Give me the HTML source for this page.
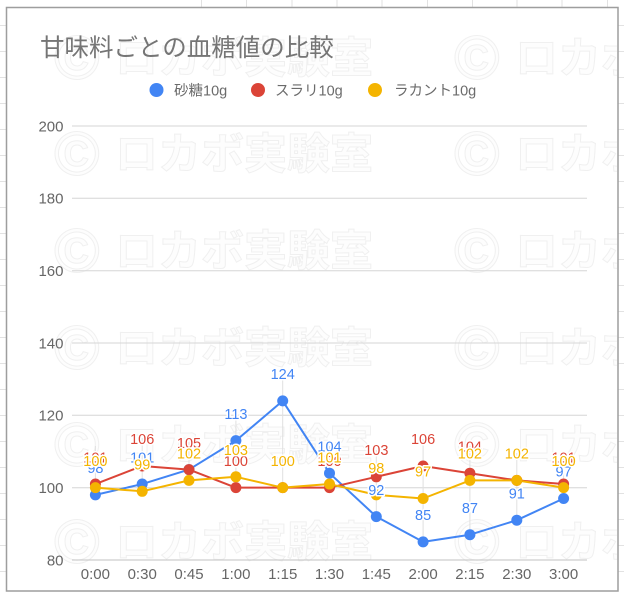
<!DOCTYPE html>
<html><head><meta charset="utf-8">
<style>
html,body{margin:0;padding:0;background:#fff;}
body{width:624px;height:595px;overflow:hidden;}
svg{display:block;}
.wm{font-family:"Liberation Sans","Noto Sans CJK JP",sans-serif;font-weight:bold;fill:#fdfdfd;stroke:#f0f0f0;stroke-width:1;}
.ax{font-family:"Liberation Sans",sans-serif;font-size:15px;fill:#666;}
.lb{font-family:"Liberation Sans",sans-serif;font-size:14.5px;text-anchor:middle;stroke:#fff;stroke-width:3;paint-order:stroke;stroke-linejoin:round;}
.b{fill:#4285f4}.r{fill:#db4437}.y{fill:#f4b400}
</style></head>
<body>
<svg width="624" height="595" viewBox="0 0 624 595" xmlns="http://www.w3.org/2000/svg">
<rect width="624" height="595" fill="#fff"/>
<g stroke="#e2e2e2" stroke-width="1">
<line x1="201.5" y1="0" x2="201.5" y2="7"/><line x1="246.5" y1="0" x2="246.5" y2="7"/><line x1="292" y1="0" x2="292" y2="7"/><line x1="337" y1="0" x2="337" y2="7"/><line x1="382" y1="0" x2="382" y2="7"/><line x1="427.5" y1="0" x2="427.5" y2="7"/><line x1="472.5" y1="0" x2="472.5" y2="7"/><line x1="517" y1="0" x2="517" y2="7"/><line x1="562" y1="0" x2="562" y2="7"/><line x1="607.5" y1="0" x2="607.5" y2="7"/>
</g>
<g stroke="#e2e2e2" stroke-width="1">
<path d="M0 25.5H6M0 51.5H6M0 77.5H6M0 103.5H6M0 129.5H6M0 155.5H6M0 181.5H6M0 207.5H6M0 233.5H6M0 259.5H6M0 285.5H6M0 311.5H6M0 337.5H6M0 363.5H6M0 389.5H6M0 415.5H6M0 441.5H6M0 467.5H6M0 493.5H6M0 519.5H6M0 545.5H6M0 571.5H6"/>
<path d="M618 25.5H624M618 51.5H624M618 77.5H624M618 103.5H624M618 129.5H624M618 155.5H624M618 181.5H624M618 207.5H624M618 233.5H624M618 259.5H624M618 285.5H624M618 311.5H624M618 337.5H624M618 363.5H624M618 389.5H624M618 415.5H624M618 441.5H624M618 467.5H624M618 493.5H624M618 519.5H624M618 545.5H624M618 571.5H624"/>
</g>
<rect x="6.5" y="7.5" width="611.5" height="583.5" fill="#fff" stroke="#9e9e9e" stroke-width="1.5"/>
<svg x="7" y="8" width="610" height="582" viewBox="7 8 610 582">
<g class="wm">
<text x="54" y="79" font-size="62">©</text><text x="115" y="73" font-size="43">ロカボ実験室</text>
<text x="454" y="79" font-size="62">©</text><text x="515" y="73" font-size="43">ロカボ実験室</text>
<text x="54" y="175" font-size="62">©</text><text x="115" y="169" font-size="43">ロカボ実験室</text>
<text x="454" y="175" font-size="62">©</text><text x="515" y="169" font-size="43">ロカボ実験室</text>
<text x="54" y="272" font-size="62">©</text><text x="115" y="266" font-size="43">ロカボ実験室</text>
<text x="454" y="272" font-size="62">©</text><text x="515" y="266" font-size="43">ロカボ実験室</text>
<text x="54" y="369" font-size="62">©</text><text x="115" y="363" font-size="43">ロカボ実験室</text>
<text x="454" y="369" font-size="62">©</text><text x="515" y="363" font-size="43">ロカボ実験室</text>
<text x="54" y="466" font-size="62">©</text><text x="115" y="460" font-size="43">ロカボ実験室</text>
<text x="454" y="466" font-size="62">©</text><text x="515" y="460" font-size="43">ロカボ実験室</text>
<text x="54" y="563" font-size="62">©</text><text x="115" y="557" font-size="43">ロカボ実験室</text>
<text x="454" y="563" font-size="62">©</text><text x="515" y="557" font-size="43">ロカボ実験室</text>
</g>
</svg>
<text x="40" y="56" font-family="'Liberation Sans','Noto Sans CJK JP',sans-serif" font-size="24.5" fill="#757575">甘味料ごとの血糖値の比較</text>
<g font-family="'Liberation Sans','Noto Sans CJK JP',sans-serif" font-size="14.5" fill="#6b6b6b">
<circle cx="156.5" cy="90" r="7" fill="#4285f4"/><text x="174" y="95.5">砂糖10g</text>
<circle cx="258" cy="90" r="7" fill="#db4437"/><text x="275" y="95.5">スラリ10g</text>
<circle cx="375" cy="90" r="7" fill="#f4b400"/><text x="394" y="95.5">ラカント10g</text>
</g>
<g stroke="#d6d6d6" stroke-width="1">
<line x1="72" y1="126" x2="587" y2="126"/>
<line x1="72" y1="198.3" x2="587" y2="198.3"/>
<line x1="72" y1="270.7" x2="587" y2="270.7"/>
<line x1="72" y1="343" x2="587" y2="343"/>
<line x1="72" y1="415.3" x2="587" y2="415.3"/>
<line x1="72" y1="487.7" x2="587" y2="487.7"/>
</g>
<line x1="72" y1="560" x2="587" y2="560" stroke="#c2c2c2" stroke-width="1"/>
<g class="ax" text-anchor="end">
<text x="63.5" y="131.3">200</text>
<text x="63.5" y="203.6">180</text>
<text x="63.5" y="276">160</text>
<text x="63.5" y="348.3">140</text>
<text x="63.5" y="420.6">120</text>
<text x="63.5" y="493">100</text>
<text x="63.5" y="565.3">80</text>
</g>
<g class="ax" text-anchor="middle">
<text x="95.4" y="579">0:00</text>
<text x="142.2" y="579">0:30</text>
<text x="189" y="579">0:45</text>
<text x="235.9" y="579">1:00</text>
<text x="282.7" y="579">1:15</text>
<text x="329.5" y="579">1:30</text>
<text x="376.3" y="579">1:45</text>
<text x="423.1" y="579">2:00</text>
<text x="469.9" y="579">2:15</text>
<text x="516.8" y="579">2:30</text>
<text x="563.6" y="579">3:00</text>
</g>
<g stroke="#e0e0e0" stroke-width="1">
<line x1="95.4" y1="446" x2="95.4" y2="495"/>
<line x1="142.2" y1="438" x2="142.2" y2="491"/>
<line x1="189" y1="442" x2="189" y2="481"/>
<line x1="235.9" y1="413" x2="235.9" y2="488"/>
<line x1="282.7" y1="374" x2="282.7" y2="488"/>
<line x1="329.5" y1="446" x2="329.5" y2="488"/>
<line x1="376.3" y1="450" x2="376.3" y2="517"/>
<line x1="423.1" y1="439" x2="423.1" y2="542"/>
<line x1="469.9" y1="446" x2="469.9" y2="535"/>
<line x1="516.8" y1="453" x2="516.8" y2="520"/>
<line x1="563.6" y1="457" x2="563.6" y2="498"/>
</g>
<polyline fill="none" stroke="#4285f4" stroke-width="2" stroke-linejoin="round" points="95.4,494.9 142.2,484.05 189,469.58 235.9,440.65 282.7,400.9 329.5,473.2 376.3,516.6 423.1,541.9 469.9,534.7 516.8,520.2 563.6,498.5"/>
<polyline fill="none" stroke="#db4437" stroke-width="2" stroke-linejoin="round" points="95.4,484.05 142.2,465.97 189,469.58 235.9,487.67 282.7,487.67 329.5,487.67 376.3,476.8 423.1,465.97 469.9,473.2 516.8,480.4 563.6,484.05"/>
<polyline fill="none" stroke="#f4b400" stroke-width="2" stroke-linejoin="round" points="95.4,487.67 142.2,491.3 189,480.4 235.9,476.8 282.7,487.67 329.5,484.05 376.3,494.9 423.1,498.5 469.9,480.4 516.8,480.4 563.6,487.67"/>
<g fill="#4285f4">
<circle cx="95.4" cy="494.9" r="5.5"/><circle cx="142.2" cy="484.05" r="5.5"/><circle cx="189" cy="469.58" r="5.5"/><circle cx="235.9" cy="440.65" r="5.5"/><circle cx="282.7" cy="400.9" r="5.5"/><circle cx="329.5" cy="473.2" r="5.5"/><circle cx="376.3" cy="516.6" r="5.5"/><circle cx="423.1" cy="541.9" r="5.5"/><circle cx="469.9" cy="534.7" r="5.5"/><circle cx="516.8" cy="520.2" r="5.5"/><circle cx="563.6" cy="498.5" r="5.5"/>
</g>
<g fill="#db4437">
<circle cx="95.4" cy="484.05" r="5.5"/><circle cx="142.2" cy="465.97" r="5.5"/><circle cx="189" cy="469.58" r="5.5"/><circle cx="235.9" cy="487.67" r="5.5"/><circle cx="282.7" cy="487.67" r="5.5"/><circle cx="329.5" cy="487.67" r="5.5"/><circle cx="376.3" cy="476.8" r="5.5"/><circle cx="423.1" cy="465.97" r="5.5"/><circle cx="469.9" cy="473.2" r="5.5"/><circle cx="516.8" cy="480.4" r="5.5"/><circle cx="563.6" cy="484.05" r="5.5"/>
</g>
<g fill="#f4b400">
<circle cx="95.4" cy="487.67" r="5.5"/><circle cx="142.2" cy="491.3" r="5.5"/><circle cx="189" cy="480.4" r="5.5"/><circle cx="235.9" cy="476.8" r="5.5"/><circle cx="282.7" cy="487.67" r="5.5"/><circle cx="329.5" cy="484.05" r="5.5"/><circle cx="376.3" cy="494.9" r="5.5"/><circle cx="423.1" cy="498.5" r="5.5"/><circle cx="469.9" cy="480.4" r="5.5"/><circle cx="516.8" cy="480.4" r="5.5"/><circle cx="563.6" cy="487.67" r="5.5"/>
</g>
<g class="lb b">
<text x="95.4" y="473.1">98</text><text x="142.2" y="462.25">101</text><text x="189" y="447.8">105</text><text x="235.9" y="418.85">113</text><text x="282.7" y="379.1">124</text><text x="329.5" y="451.4">104</text><text x="376.3" y="494.8">92</text><text x="423.1" y="520.1">85</text><text x="469.9" y="512.9">87</text><text x="516.8" y="498.4">91</text><text x="563.6" y="476.7">97</text>
</g>
<g class="lb r">
<text x="95.4" y="462.25">101</text><text x="142.2" y="444.17">106</text><text x="189" y="447.8">105</text><text x="235.9" y="465.87">100</text><text x="282.7" y="465.87">100</text><text x="329.5" y="465.87">100</text><text x="376.3" y="455">103</text><text x="423.1" y="444.17">106</text><text x="469.9" y="451.4">104</text><text x="516.8" y="458.6">102</text><text x="563.6" y="462.25">101</text>
</g>
<g class="lb y">
<text x="95.4" y="465.87">100</text><text x="142.2" y="469.5">99</text><text x="189" y="458.6">102</text><text x="235.9" y="455">103</text><text x="282.7" y="465.87">100</text><text x="329.5" y="462.25">101</text><text x="376.3" y="473.1">98</text><text x="423.1" y="476.7">97</text><text x="469.9" y="458.6">102</text><text x="516.8" y="458.6">102</text><text x="563.6" y="465.87">100</text>
</g>
</svg>
</body></html>
